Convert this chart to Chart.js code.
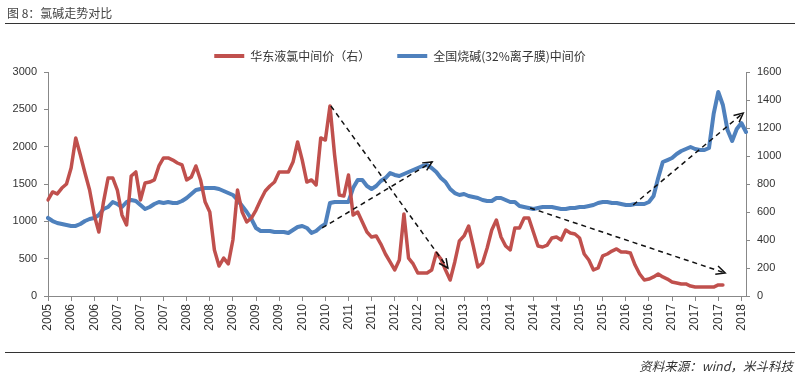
<!DOCTYPE html>
<html>
<head>
<meta charset="utf-8">
<script src="https://cdn.jsdelivr.net/npm/chart.js@4.4.1/dist/chart.umd.min.js"></script>
<style>
  html, body { margin: 0; padding: 0; background: #fff; }
  #wrap { position: relative; width: 800px; height: 376px; overflow: hidden; }
  #chart { position: absolute; left: 0; top: 0; }
  .title { position: absolute; left: 7px; top: 4px; font: 12px/17px "Noto Sans CJK SC", sans-serif; color: #444; }
  .rule { position: absolute; left: 5px; right: 5px; height: 0; border-top: 1.5px solid #333; }
  .source { position: absolute; right: 7px; top: 357px; font: italic 12.5px/17px "Noto Sans CJK SC", sans-serif; color: #333; }
</style>
</head>
<body>
<div id="wrap">
  <canvas id="chart" width="800" height="376"></canvas>
  <div class="title">图 8：氯碱走势对比</div>
  <div class="rule" style="top:23px"></div>
  <div class="rule" style="top:352px; border-top-width:1px"></div>
  <div class="source">资料来源：wind，米斗科技</div>
</div>
<script>
// tick labels on the x axis, one every 5 points
const tickLabels = ['2005','2006','2006','2007','2007','2007','2008','2008','2009','2009','2009',
    '2010','2010','2011','2011','2012','2012','2012','2013','2013','2014','2014','2014',
    '2015','2015','2016','2016','2017','2017','2017','2018'];
const pointsPerTick = 5;

const redName = '华东液氯中间价（右）';
const blueName = '全国烧碱(32%离子膜)中间价';

// 华东液氯 (right axis)
const redValues = [686,743,729,771,800,914,1129,1007,879,757,
    579,457,671,843,843,757,579,507,857,886,
    686,807,814,829,929,986,986,971,950,936,
    829,850,929,829,671,600,329,214,271,229,
    400,757,600,529,557,614,686,750,786,814,
    886,886,886,957,1100,971,814,829,793,1129,
    1114,1357,1007,721,714,864,579,600,529,457,
    421,429,371,300,243,186,257,586,271,229,
    164,164,164,186,307,264,186,114,243,393,
    429,500,357,207,236,343,471,543,421,357,
    329,486,486,557,557,457,357,350,364,414,
    421,400,471,450,443,414,300,257,186,200,
    286,300,321,336,314,314,307,221,157,114,
    121,136,157,136,121,100,93,86,86,71,
    64,64,64,64,64,79,79,null,null,null,
    null,null];

// 全国烧碱 (left axis)
const blueValues = [1045,1004,978,964,951,938,938,964,1004,1031,
    1045,1085,1165,1192,1259,1232,1192,1259,1286,1272,
    1219,1165,1192,1232,1259,1246,1259,1246,1246,1272,
    1313,1366,1420,1433,1446,1446,1446,1433,1406,1379,
    1353,1286,1205,1125,1031,911,871,871,871,857,
    857,857,844,884,924,938,911,844,871,924,
    964,1246,1259,1259,1259,1259,1446,1554,1554,1473,
    1433,1473,1540,1580,1647,1621,1607,1634,1661,1688,
    1714,1741,1754,1714,1661,1580,1527,1433,1379,1353,
    1366,1339,1326,1313,1286,1272,1272,1313,1313,1286,
    1259,1259,1205,1192,1179,1165,1179,1192,1192,1192,
    1179,1165,1165,1179,1179,1192,1192,1205,1219,1246,
    1259,1259,1246,1246,1232,1219,1219,1232,1232,1232,
    1259,1339,1580,1795,1821,1848,1902,1942,1969,1996,
    1969,1955,1955,1982,2438,2732,2558,2223,2076,2237,
    2317,2196];

// dashed trend arrows, [point index, left-axis value]
const arrowStarts = [[61.2, 2545], [59.3, 911], [104.3, 1179], [126.6, 1219]];
const arrowEnds   = [[86.5, 375], [83.1, 1795], [146.5, 308], [150.4, 2451]];

const categories = blueValues.map((_, i) => i);
const RED = '#c0504d';
const BLUE = '#4f81bd';
const CJK = '"Noto Sans CJK SC", "Liberation Sans", sans-serif';
const LATIN = '"Liberation Sans", Arial, sans-serif';

const trendArrows = {
    id: 'trendArrows',
    afterDatasetsDraw(chart) {
        const { ctx, scales: { x, y } } = chart;
        ctx.save();
        ctx.strokeStyle = '#111';
        ctx.lineWidth = 1.5;
        arrowStarts.forEach((s, i) => {
            const e = arrowEnds[i];
            const x0 = x.getPixelForValue(s[0]), y0 = y.getPixelForValue(s[1]);
            const x1 = x.getPixelForValue(e[0]), y1 = y.getPixelForValue(e[1]);
            ctx.setLineDash([5, 4]);
            ctx.beginPath();
            ctx.moveTo(x0, y0);
            ctx.lineTo(x1, y1);
            ctx.stroke();
            const a = Math.atan2(y1 - y0, x1 - x0);
            ctx.setLineDash([]);
            ctx.beginPath();
            ctx.moveTo(x1 - 10 * Math.cos(a - 0.45), y1 - 10 * Math.sin(a - 0.45));
            ctx.lineTo(x1, y1);
            ctx.lineTo(x1 - 10 * Math.cos(a + 0.45), y1 - 10 * Math.sin(a + 0.45));
            ctx.stroke();
        });
        ctx.restore();
    }
};

new Chart(document.getElementById('chart'), {
    type: 'line',
    data: {
        labels: categories,
        datasets: [
            { label: redName, data: redValues, yAxisID: 'y1', borderColor: RED, backgroundColor: RED,
              borderWidth: 3.5, pointRadius: 0, tension: 0, borderJoinStyle: 'round', borderCapStyle: 'round' },
            { label: blueName, data: blueValues, yAxisID: 'y', borderColor: BLUE, backgroundColor: BLUE,
              borderWidth: 4, pointRadius: 0, tension: 0, borderJoinStyle: 'round', borderCapStyle: 'round' }
        ]
    },
    options: {
        responsive: false,
        animation: false,
        devicePixelRatio: 1,
        layout: { padding: { top: 23, left: 0, right: 0, bottom: 0 } },
        plugins: {
            tooltip: { enabled: false },
            legend: {
                position: 'top',
                labels: {
                    color: '#333',
                    font: { size: 12, family: CJK },
                    boxWidth: 30,
                    boxHeight: 4,
                    padding: 27,
                    generateLabels: chart => Chart.defaults.plugins.legend.labels.generateLabels(chart)
                        .map(l => Object.assign(l, { lineWidth: 0 }))
                }
            }
        },
        scales: {
            x: {
                offset: false,
                afterFit: s => { s.height = 80; },
                grid: { drawOnChartArea: false, tickLength: 5, color: '#888' },
                border: { color: '#888' },
                ticks: {
                    autoSkip: false, maxRotation: 90, minRotation: 90, padding: 3,
                    color: '#333', font: { size: 12, family: LATIN },
                    callback: (v, i) => i % pointsPerTick === 0 ? tickLabels[i / pointsPerTick] : null
                }
            },
            y: {
                position: 'left', min: 0, max: 3000,
                afterFit: s => { s.width = 48; },
                grid: { drawOnChartArea: false, tickLength: 4, color: '#888' },
                border: { color: '#888' },
                ticks: { stepSize: 500, padding: 7, color: '#333', font: { size: 11, family: LATIN },
                         callback: v => String(v) }
            },
            y1: {
                position: 'right', min: 0, max: 1600,
                afterFit: s => { s.width = 54; },
                grid: { drawOnChartArea: false, tickLength: 4, color: '#888' },
                border: { color: '#888' },
                ticks: { stepSize: 200, padding: 7, color: '#333', font: { size: 11, family: LATIN },
                         callback: v => String(v) }
            }
        }
    },
    plugins: [trendArrows]
});
</script>
</body>
</html>
